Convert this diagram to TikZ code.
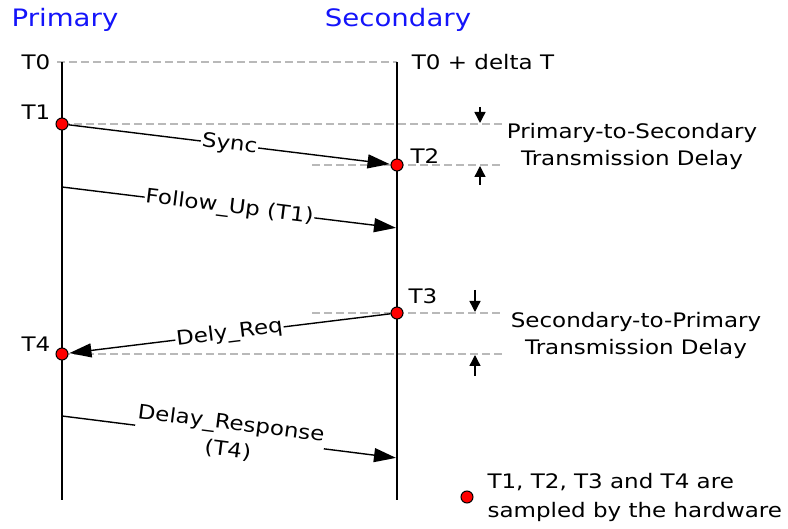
\documentclass[tikz,border=0pt]{standalone}
\usepackage{fontspec}
\setmainfont{DejaVu Sans}[FakeStretch=1.15]
\usetikzlibrary{arrows.meta}
\definecolor{titleblue}{RGB}{20,20,250}
\definecolor{guidegray}{RGB}{185,185,185}

\begin{document}
\begin{tikzpicture}[x=1pt, y=-1pt, font=\fontsize{20}{27}\selectfont,
	dot/.style={circle, draw=black, fill=red, inner sep=0pt, minimum size=12pt, line width=1pt},
	msg/.style={-{Triangle[length=22pt,width=14pt]}, line width=1.4pt, shorten >=1pt},
	guide/.style={guidegray, dash pattern=on 8pt off 4pt, line width=2pt},
	gap/.style={-{Triangle[length=11pt,width=11pt]}, line width=1.4pt},
	lbl/.style={fill=white, inner sep=1pt, sloped},
	title/.style={titleblue, font=\fontsize{24}{28}\selectfont}]
	\useasboundingbox (0, 0) rectangle (788, 529); %全体の大きさ
%	見出し
	\node[title] (ptitle) at (65, 20) {Primary};
	\node[title] (stitle) at (398, 20) {Secondary};
%	縦の時間軸
	\coordinate (ptop) at (62, 62);
	\coordinate (pbot) at (62, 500);
	\coordinate (stop) at (397, 62);
	\coordinate (sbot) at (397, 500);
	\draw[guide] (57, 62)-- (stop); %T0の点線
	\draw[line width= 1.7pt] (ptop)-- (pbot); %Primary側
	\draw[line width= 1.7pt] (stop)-- (sbot); %Secondary側
%	時刻のラベル
	\node (t0) at (36, 62) {T0};
	\node (t0d) at (483, 62) {T0 + delta T};
	\node (lt1) at (36, 112) {T1};
	\node (lt2) at (425, 156) {T2};
	\node (lt3) at (423, 296) {T3};
	\node (lt4) at (36, 344) {T4};
%	遅延を示す点線
	\draw[guide] (62, 124)-- (503, 124); %T1
	\draw[guide] (312, 165)-- (503, 165); %T2
	\draw[guide] (312, 313)-- (503, 313); %T3
	\draw[guide] (62, 354)-- (503, 354); %T4
%	メッセージの矢印
	\node[dot] (t1) at (62, 124) {};
	\node[dot] (t2) at (397, 165) {};
	\node[dot] (t3) at (397, 313) {};
	\node[dot] (t4) at (62, 354) {};
	\coordinate (fu1) at (62, 187);
	\coordinate (fu2) at (397, 228);
	\coordinate (dr1) at (62, 416);
	\coordinate (dr2) at (397, 458);
	\draw[msg] (t1)-- node[lbl] {Sync} (t2);
	\draw[msg] (fu1)-- node[lbl] {Follow\_Up (T1)} (fu2);
	\draw[msg] (t3)-- node[lbl] {Dely\_Req} (t4);
	\draw[msg] (dr1)-- node[lbl, align=center] {Delay\_Response\\(T4)} (dr2);
%	伝送遅延の矢印
	\draw[gap] (480, 107)-- (480, 123);
	\draw[gap] (480, 185)-- (480, 166);
	\draw[gap] (475, 290)-- (475, 312);
	\draw[gap] (475, 376)-- (475, 355);
	\node[align=center] (psdelay) at (632, 146) {Primary-to-Secondary\\Transmission Delay};
	\node[align=center] (spdelay) at (636, 335) {Secondary-to-Primary\\Transmission Delay};
%	凡例
	\node[dot] (key) at (467, 497) {};
	\node[align=left, anchor=west, font=\fontsize{20}{29}\selectfont] (keytext) at (484, 497) {T1, T2, T3 and T4 are\\sampled by the hardware};
\end{tikzpicture}
\end{document}
